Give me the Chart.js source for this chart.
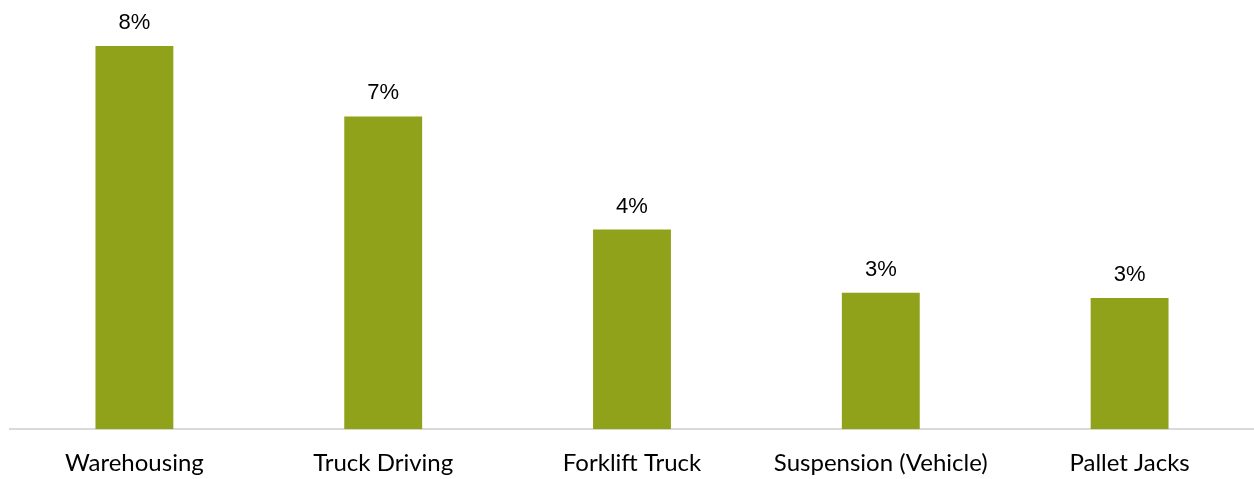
<!DOCTYPE html>
<html>
<head>
<meta charset="utf-8">
<script src="https://cdn.jsdelivr.net/npm/chart.js@4"></script>
<style>
  html, body { margin: 0; padding: 0; background: #fff; }
  #wrap { width: 1254px; height: 479px; }
</style>
</head>
<body>
<div id="wrap"><canvas id="myBarChart"></canvas></div>
<script>
const categories = ['Warehousing', 'Truck Driving', 'Forklift Truck', 'Suspension (Vehicle)', 'Pallet Jacks'];
const shares = [8.0, 6.53, 4.17, 2.85, 2.74];

// value labels above each bar
const barLabels = {
    id: 'barLabels',
    afterDatasetsDraw(chart) {
        const ctx = chart.ctx;
        const meta = chart.getDatasetMeta(0);
        ctx.save();
        ctx.font = '22px "Liberation Sans", Arial, sans-serif';
        ctx.fillStyle = '#000';
        ctx.textAlign = 'center';
        ctx.textBaseline = 'bottom';
        meta.data.forEach((bar, i) => {
            ctx.fillText(Math.round(shares[i]) + '%', bar.x, bar.y - 12);
        });
        ctx.restore();
    }
};

const ctx = document.getElementById('myBarChart').getContext('2d');

const data = {
    labels: categories,
    datasets: [{
        data: shares,
        backgroundColor: '#90a219',
        barPercentage: 0.313,
        categoryPercentage: 1.0
    }]
};

const config = {
    type: 'bar',
    data: data,
    options: {
        responsive: true,
        maintainAspectRatio: false,
        animation: false,
        layout: {
            padding: { top: 46, left: 10, right: 0, bottom: -11 }
        },
        plugins: {
            legend: { display: false },
            tooltip: { enabled: false }
        },
        scales: {
            x: {
                grid: { display: false },
                border: { color: '#d9d9d9', width: 2 },
                ticks: {
                    color: '#000',
                    padding: 12,
                    maxRotation: 0,
                    font: { family: 'Lato, "Open Sans", sans-serif', size: 24 }
                }
            },
            y: {
                display: false,
                min: 0,
                max: 8.0
            }
        }
    },
    plugins: [barLabels]
};

const myBarChart = new Chart(ctx, config);
</script>
</body>
</html>
